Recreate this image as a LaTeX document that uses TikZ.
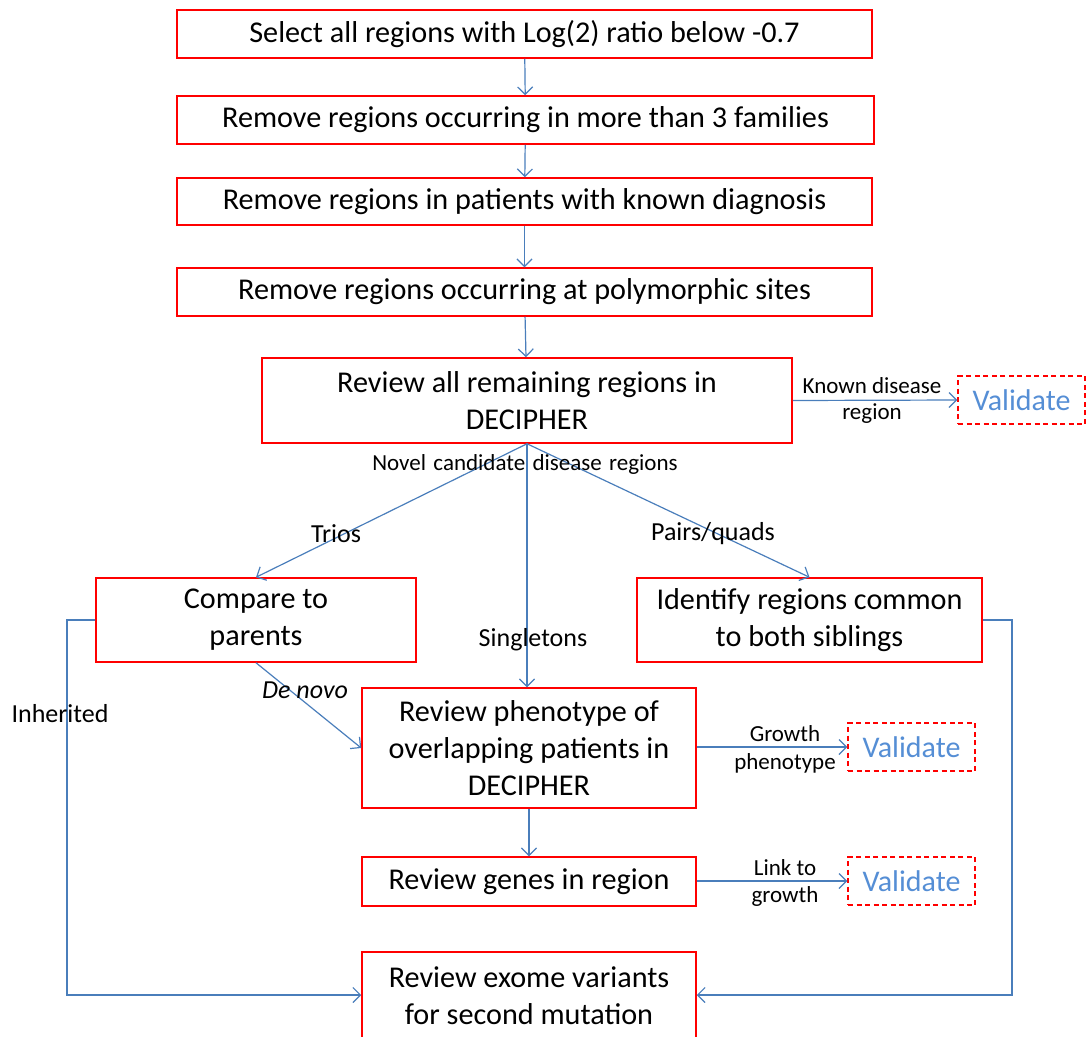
\documentclass[tikz,border=0pt]{standalone}
\usepackage{fontspec}
\setmainfont{Carlito}
\usetikzlibrary{arrows.meta}
\definecolor{boxRed}{RGB}{255,0,0}
\definecolor{linkBlue}{RGB}{74,126,187}
\definecolor{validateBlue}{RGB}{85,142,213}

\begin{document}
\begin{tikzpicture}
[x=1pt,y=-1pt,
  stepDecorate/.style={shape=rectangle,draw=boxRed,line width=1.5pt,inner sep=0pt,
    align=center,font=\fontsize{30.2}{37}\selectfont},
  validateDecorate/.style={shape=rectangle,draw=boxRed,line width=1.3pt,
    dash pattern=on 5pt off 3.5pt,text=validateBlue,inner sep=0pt,
    minimum width=127pt,minimum height=48pt,font=\fontsize{30}{36}\selectfont},
  lineDecorate/.style={draw=linkBlue,line width=1.2pt,
    -{Straight Barb[length=7.5pt,width=15pt]}},
  labelDecorate/.style={inner sep=0pt,font=\fontsize{26}{30}\selectfont},
  smallDecorate/.style={inner sep=0pt,font=\fontsize{23}{27}\selectfont}]
\useasboundingbox (0,0) rectangle (1088,1037);
%% step boxes
\foreach \nodename/\x/\y/\w/\h/\words in {
  select/524.5/34/695/48/{Select all regions with Log(2) ratio below -0.7},
  families/525.5/120/697/48/{Remove regions occurring in more than 3 families},
  diagnosis/524.5/201.5/695/47/{Remove regions in patients with known diagnosis},
  polymorphic/524.5/292/695/48/{Remove regions occurring at polymorphic sites},
  decipher/527/400.5/530/85/{Review all remaining regions in\\DECIPHER},
  parents/256/620/320/84/{Compare to\\parents},
  siblings/809.5/620/345/84/{Identify regions common\\to both siblings},
  phenotype/529/748/334/120/{Review phenotype of\\overlapping patients in\\DECIPHER},
  genes/529/881.5/334/49/{Review genes in region},
  exome/529/996/334/88/{Review exome variants\\for second mutation}}
{
  \node (\nodename) at (\x,\y) [stepDecorate,minimum width=\w pt,minimum height=\h pt] {\words};
}
%% validation boxes
\foreach \nodename/\x/\y in {
  validateA/1021.5/400,
  validateB/911.5/747,
  validateC/911.5/881}
{
  \node (\nodename) at (\x,\y) [validateDecorate] {Validate};
}
%% straight links
\path
\foreach \startnode/\endnode in {
  select/families, families/diagnosis, diagnosis/polymorphic,
  polymorphic/decipher, phenotype/genes}
{
  (\startnode) edge[lineDecorate] (\endnode)
};
\draw[lineDecorate] (decipher.east) -- (validateA.west);
\draw[lineDecorate] (phenotype.east |- validateB) -- (validateB.west);
\draw[lineDecorate] (genes.east |- validateC) -- (validateC.west);
%% branches out of DECIPHER review
\draw[lineDecorate] (decipher.south) -- (parents.north);
\draw[lineDecorate] (decipher.south) -- (phenotype.north -| decipher.south);
\draw[lineDecorate] (decipher.south) -- (siblings.north);
\draw[lineDecorate] (parents.south) -- (phenotype.west);
\coordinate (inheritTop) at (67,620);
\coordinate (inheritBot) at (67,995);
\coordinate (siblingTop) at (1012,620);
\coordinate (siblingBot) at (1012,995);
\draw[lineDecorate] (parents.west) -- (inheritTop) -- (inheritBot) -- (exome.west |- inheritBot);
\draw[lineDecorate] (siblings.east) -- (siblingTop) -- (siblingBot) -- (exome.east |- siblingBot);
%% labels
\node (knownA) at (872,386) [smallDecorate] {Known disease};
\node (knownB) at (872,414) [smallDecorate] {region};
\node (novel) at (525,464) [smallDecorate] {\spaceskip=0.32em\relax Novel candidate disease regions};
\node (trios) at (336,534) [labelDecorate] {Trios};
\node (pairs) at (713,534) [labelDecorate] {Pairs/quads};
\node (single) at (533,640) [labelDecorate] {Singletons};
\node (denovo) at (305,690) [labelDecorate] {\itshape De novo};
\node (inherit) at (60,714) [labelDecorate] {Inherited};
\node (growthA) at (785,734) [smallDecorate] {Growth};
\node (growthB) at (785,763) [smallDecorate] {phenotype};
\node (linkA) at (785,868) [smallDecorate] {Link to};
\node (linkB) at (785,896) [smallDecorate] {growth};
\end{tikzpicture}
\end{document}
